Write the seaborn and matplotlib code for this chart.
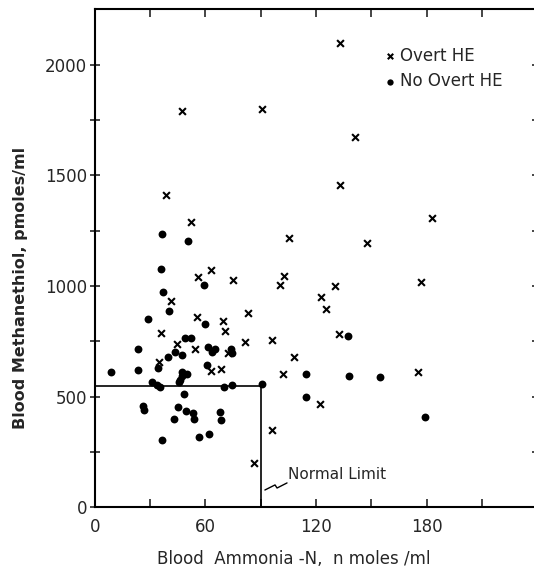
import numpy as np
import pandas as pd
import matplotlib
matplotlib.use("Agg")
import matplotlib.pyplot as plt
import seaborn as sns

# Blood ammonia-N (n moles/ml) and blood methanethiol (pmoles/ml)
overt_ammonia = [133, 47.4, 90.7, 141, 133, 38.5, 183, 52.2, 105.4, 147.9,
                 56, 63.2, 74.8, 102.7, 100.7, 130.4, 177, 122.9, 125.2, 41.3,
                 55.7, 69.4, 83.4, 70.4, 36.2, 132.4, 81.5, 96.2, 44.8, 54.5,
                 72.2, 108, 35, 63.1, 68.6, 102, 175.3, 122, 96, 86.6]
overt_methanethiol = [2098, 1792, 1801, 1675, 1456, 1412, 1308, 1289, 1216, 1195,
                      1040, 1070, 1025, 1045, 1003, 1000, 1017, 950, 898, 932,
                      858, 840, 878, 796, 789, 785, 748, 757, 736, 716,
                      699, 678, 656, 617, 625, 601, 610, 465, 349, 201]

no_overt_ammonia = [36.5, 50.4, 35.7, 59.4, 37.2, 40.3, 28.7, 59.8, 49.1, 52.3,
                    23.3, 61.5, 65.2, 63.8, 74.0, 74.2, 43.4, 47.5, 39.6, 60.9,
                    34.1, 23.3, 8.7, 47.5, 50.2, 47.2, 46.3, 45.5, 30.9, 33.6,
                    35.4, 70.3, 74.6, 90.7, 48.3, 26.4, 26.7, 45.3, 49.7, 53.1,
                    54.0, 43.0, 68.0, 68.5, 36.3, 56.6, 62.0, 137.3, 114.4, 114.4,
                    138, 154.9, 178.9]
no_overt_methanethiol = [1236, 1201, 1075, 1004, 975, 889, 851, 827, 763, 766,
                         714, 726, 716, 703, 715, 699, 702, 690, 680, 642,
                         628, 620, 610, 613, 604, 591, 577, 566, 564, 553,
                         545, 545, 553, 557, 511, 459, 441, 452, 437, 426,
                         400, 399, 430, 394, 302, 316, 329, 775, 601, 500,
                         592, 590, 408]

groups = ["Overt HE", "No Overt HE"]
normal_limit_ammonia = 90
normal_limit_methanethiol = 550

x_ticks_major = [0, 60, 120, 180]
x_ticks_minor = [30, 90, 150, 210]
y_ticks_major = [0, 500, 1000, 1500, 2000]
y_ticks_minor = [250, 750, 1250, 1750]

df = pd.DataFrame({
    "ammonia": overt_ammonia + no_overt_ammonia,
    "methanethiol": overt_methanethiol + no_overt_methanethiol,
    "group": [groups[0]] * len(overt_ammonia) + [groups[1]] * len(no_overt_ammonia),
})

sns.set_style("white")
plt.rcParams["font.family"] = ["DejaVu Sans"]

fig = plt.figure(figsize=(5.34, 5.73), dpi=100)
ax = fig.add_axes([0.1773, 0.1147, 0.8288, 0.869])

sns.scatterplot(data=df[df.group == groups[0]], x="ammonia", y="methanethiol",
                marker="x", color="black", s=24, linewidth=1.5, ax=ax,
                label=groups[0], zorder=3)
sns.scatterplot(data=df[df.group == groups[1]], x="ammonia", y="methanethiol",
                marker="o", color="black", s=32, edgecolor="black", linewidth=0,
                ax=ax, label=groups[1], zorder=3)

# normal limit box
ax.plot([0, normal_limit_ammonia], [normal_limit_methanethiol] * 2,
        color="black", lw=1.2, zorder=2)
ax.plot([normal_limit_ammonia] * 2, [0, normal_limit_methanethiol],
        color="black", lw=1.2, zorder=2)
ax.plot([92.3, 97.8, 98.9, 104.3], [78, 101, 87, 110], color="black", lw=1.0)
ax.text(105, 150, "Normal Limit", fontsize=11, va="center", ha="left")

ax.set_xlim(0, 240)
ax.set_ylim(0, 2250)
ax.set_xticks(x_ticks_major)
ax.set_xticks(x_ticks_minor, minor=True)
ax.set_yticks(y_ticks_major)
ax.set_yticks(y_ticks_minor, minor=True)
ax.set_xticklabels([str(v) for v in x_ticks_major], fontsize=12)
ax.set_yticklabels([str(v) for v in y_ticks_major], fontsize=12)

ax.tick_params(axis="x", which="both", direction="in", length=6, width=1.2,
               top=True, bottom=True, pad=8)
ax.tick_params(axis="y", which="both", direction="inout", length=7, width=1.2,
               left=True, right=True, pad=2)

for side in ["left", "bottom", "top", "right"]:
    ax.spines[side].set_visible(True)
    ax.spines[side].set_color("black")
    ax.spines[side].set_linewidth(1.5)

ax.set_xlabel("Blood  Ammonia -N,  n moles /ml", fontsize=12)
ax.set_ylabel("Blood Methanethiol, pmoles/ml", fontsize=11.5, fontweight="bold")
ax.xaxis.set_label_coords(0.45, -0.085)
ax.yaxis.set_label_coords(-0.15, 0.44)

leg = ax.legend(loc="upper left", bbox_to_anchor=(0.63, 0.942), frameon=False,
                fontsize=12, handletextpad=0.1, markerscale=0.8,
                borderpad=0, labelspacing=0.45, handlelength=1.0)

fig.savefig("out.png", dpi=100)
